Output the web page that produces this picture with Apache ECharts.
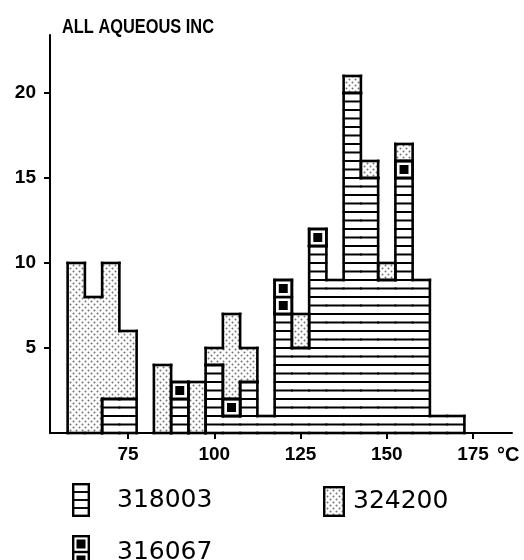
<!DOCTYPE html>
<html><head><meta charset="utf-8">
<script src="https://cdn.jsdelivr.net/npm/echarts@6/dist/echarts.min.js"></script>
<style>html,body{margin:0;padding:0;background:#fff}#c{width:524px;height:560px}</style>
</head><body><div id="c"></div>
<script>
// ---- data ----
const binCenters = [60,65,70,75,80,85,90,95,100,105,110,115,120,125,130,135,140,145,150,155,160,165,170];
const binWidth = 5;
const s318003 = [0,0,2,2,0,0,2,0,4,1,3,1,7,5,11,9,20,15,9,15,9,1,1];
const s316067 = [0,0,0,0,0,0,1,0,0,1,0,0,2,0,1,0,0,0,0,1,0,0,0];
const s324200 = [10,8,8,4,0,4,0,3,1,5,2,0,0,2,0,0,1,1,1,1,0,0,0];
const xTickValues = [75,100,125,150,175];
const yTickValues = [5,10,15,20];
const seriesNames = ['318003','316067','324200'];
const titleText = 'ALL AQUEOUS INC';
const xUnit = '°C';

// ---- stacking ----
const raw = [s318003, s316067, s324200];
const segs = raw.map(() => []);
binCenters.forEach((c, i) => {
  let base = 0;
  raw.forEach((arr, s) => { segs[s].push([base, base + arr[i]]); base += arr[i]; });
});

// ---- patterns ----
function dotCanvas() {
  const cv = document.createElement('canvas'); cv.width = 6; cv.height = 6;
  const g = cv.getContext('2d');
  g.fillStyle = '#fff'; g.fillRect(0,0,6,6);
  g.fillStyle = '#737373';
  [[1.5,1.5],[4.5,4.5]].forEach(p => { g.beginPath(); g.arc(p[0], p[1], 1.0, 0, Math.PI*2); g.fill(); });
  return cv;
}
const dotPattern = { image: dotCanvas(), repeat: 'repeat' };

const LW = 2.6;
function minus(a, b) {
  if (!b || b[1] <= b[0]) return [a];
  const out = [];
  if (b[0] > a[0]) out.push([a[0], Math.min(a[1], b[0])]);
  if (b[1] < a[1]) out.push([Math.max(a[0], b[1]), a[1]]);
  return out.filter(r => r[1] > r[0]);
}
function line(p, q, w, z) {
  return { type: 'line', shape: { x1: p[0], y1: p[1], x2: q[0], y2: q[1] },
    style: { stroke: '#000', lineWidth: w, lineCap: 'square' }, z2: z };
}

function makeRender(s) {
  return function (params, api) {
    const i = params.dataIndex;
    const xc = api.value(0), lo = api.value(1), hi = api.value(2);
    const children = [];
    if (hi <= lo) return { type: 'group', children };
    const x0 = xc - binWidth / 2, x1 = xc + binWidth / 2;
    const tl = api.coord([x0, hi]), br = api.coord([x1, lo]);
    if (s === 0) {
      children.push({ type: 'rect', shape: { x: tl[0], y: tl[1], width: br[0]-tl[0], height: br[1]-tl[1] }, style: { fill: '#fff' }, z2: 1 });
      for (let v = lo + 0.5; v < hi - 0.01; v += 0.5) {
        children.push(line(api.coord([x0, v]), api.coord([x1, v]), 2.0, 5));
      }
    } else if (s === 2) {
      children.push({ type: 'rect', shape: { x: tl[0], y: tl[1], width: br[0]-tl[0], height: br[1]-tl[1] }, style: { fill: dotPattern }, z2: 1 });
    } else {
      for (let u = lo; u < hi; u++) {
        const a = api.coord([x0, u + 1]), b = api.coord([x1, u]);
        const w = b[0] - a[0], h = b[1] - a[1];
        children.push({ type: 'rect', shape: { x: a[0], y: a[1], width: w, height: h }, style: { fill: '#fff', stroke: '#000', lineWidth: LW }, z2: 10 });
        const sq = w * 0.52;
        children.push({ type: 'rect', shape: { x: a[0] + (w - sq) / 2, y: a[1] + (h - sq) / 2, width: sq, height: sq }, style: { fill: '#000' }, z2: 11 });
      }
    }
    // outline
    children.push(line(api.coord([x0, hi]), api.coord([x1, hi]), LW, 10));
    children.push(line(api.coord([x0, lo]), api.coord([x1, lo]), LW, 10));
    const prev = i > 0 ? segs[s][i - 1] : null;
    const next = i < binCenters.length - 1 ? segs[s][i + 1] : null;
    minus([lo, hi], prev).forEach(r => children.push(line(api.coord([x0, r[0]]), api.coord([x0, r[1]]), LW, 10)));
    minus([lo, hi], next).forEach(r => children.push(line(api.coord([x1, r[0]]), api.coord([x1, r[1]]), LW, 10)));
    return { type: 'group', children };
  };
}

// ---- legend icons ----
function iconLined() {
  const cv = document.createElement('canvas'); cv.width = 18; cv.height = 34;
  const g = cv.getContext('2d');
  g.fillStyle = '#fff'; g.fillRect(0,0,18,34);
  g.strokeStyle = '#000'; g.lineWidth = 2.4; g.strokeRect(1.2,1.2,15.6,31.6);
  g.lineWidth = 1.9;
  [9, 17, 25].forEach(y => { g.beginPath(); g.moveTo(1, y); g.lineTo(17, y); g.stroke(); });
  return 'image://' + cv.toDataURL();
}
function iconDots() {
  const cv = document.createElement('canvas'); cv.width = 22; cv.height = 31;
  const g = cv.getContext('2d');
  g.fillStyle = g.createPattern(dotCanvas(), 'repeat'); g.fillRect(0,0,22,31);
  g.strokeStyle = '#000'; g.lineWidth = 2.4; g.strokeRect(1.2,1.2,19.6,28.6);
  return 'image://' + cv.toDataURL();
}
function iconSquares() {
  const cv = document.createElement('canvas'); cv.width = 18; cv.height = 34;
  const g = cv.getContext('2d');
  g.fillStyle = '#fff'; g.fillRect(0,0,18,34);
  g.strokeStyle = '#000'; g.lineWidth = 2.4; g.strokeRect(1.2,1.2,15.6,31.6);
  g.beginPath(); g.moveTo(1,17); g.lineTo(17,17); g.stroke();
  g.fillStyle = '#000'; g.fillRect(4.5,4.5,9,9); g.fillRect(4.5,20.5,9,9);
  return 'image://' + cv.toDataURL();
}

const FONT = "'Liberation Sans', Arial, sans-serif";
const legendText = { color: '#000', fontSize: 25, fontFamily: "'DejaVu Sans', sans-serif" };

const chart = echarts.init(document.getElementById('c'), null, { renderer: 'canvas' });
chart.setOption({
  animation: false,
  backgroundColor: '#fff',
  graphic: [{
    type: 'text', left: 62, top: 17, scaleX: 0.78, originX: 0,
    style: { text: titleText, fill: '#000', fontSize: 21, fontWeight: 'bold', fontFamily: FONT }
  }],
  grid: { left: 50, right: 12, top: 35, bottom: 127 },
  xAxis: {
    type: 'value', min: 52.39, max: 186.3,
    name: xUnit, nameLocation: 'end', nameGap: -15,
    nameTextStyle: { color: '#000', fontSize: 20, fontWeight: 'bold', fontFamily: FONT, verticalAlign: 'top', padding: [12, 0, 0, 0] },
    axisLine: { lineStyle: { color: '#000', width: 2 } },
    axisTick: { show: true, length: 6, lineStyle: { color: '#000', width: 2 }, customValues: xTickValues },
    axisLabel: { color: '#000', fontSize: 19, fontWeight: 'bold', fontFamily: FONT, margin: 12, customValues: xTickValues },
    splitLine: { show: false }
  },
  yAxis: {
    type: 'value', min: 0, max: 23.41,
    axisLine: { show: true, lineStyle: { color: '#000', width: 2 } },
    axisTick: { show: true, length: 6, lineStyle: { color: '#000', width: 2 }, customValues: yTickValues },
    axisLabel: { color: '#000', fontSize: 19, fontWeight: 'bold', fontFamily: FONT, margin: 14, customValues: yTickValues },
    splitLine: { show: false }
  },
  legend: [
    { data: [{ name: seriesNames[0], icon: iconLined() }], left: 67, top: 478, itemWidth: 18, itemHeight: 34, selectedMode: false, textStyle: Object.assign({ padding: [0,0,0,22] }, legendText) },
    { data: [{ name: seriesNames[2], icon: iconDots() }], left: 318, top: 481, itemWidth: 22, itemHeight: 31, selectedMode: false, textStyle: Object.assign({ padding: [0,0,0,3] }, legendText) },
    { data: [{ name: seriesNames[1], icon: iconSquares() }], left: 67, top: 530, itemWidth: 18, itemHeight: 34, selectedMode: false, textStyle: Object.assign({ padding: [0,0,0,22] }, legendText) }
  ],
  series: seriesNames.map((name, s) => ({
    type: 'custom', name,
    renderItem: makeRender(s),
    encode: { x: 0, y: [1, 2] },
    data: binCenters.map((c, i) => [c, segs[s][i][0], segs[s][i][1]])
  }))
});
</script></body></html>
